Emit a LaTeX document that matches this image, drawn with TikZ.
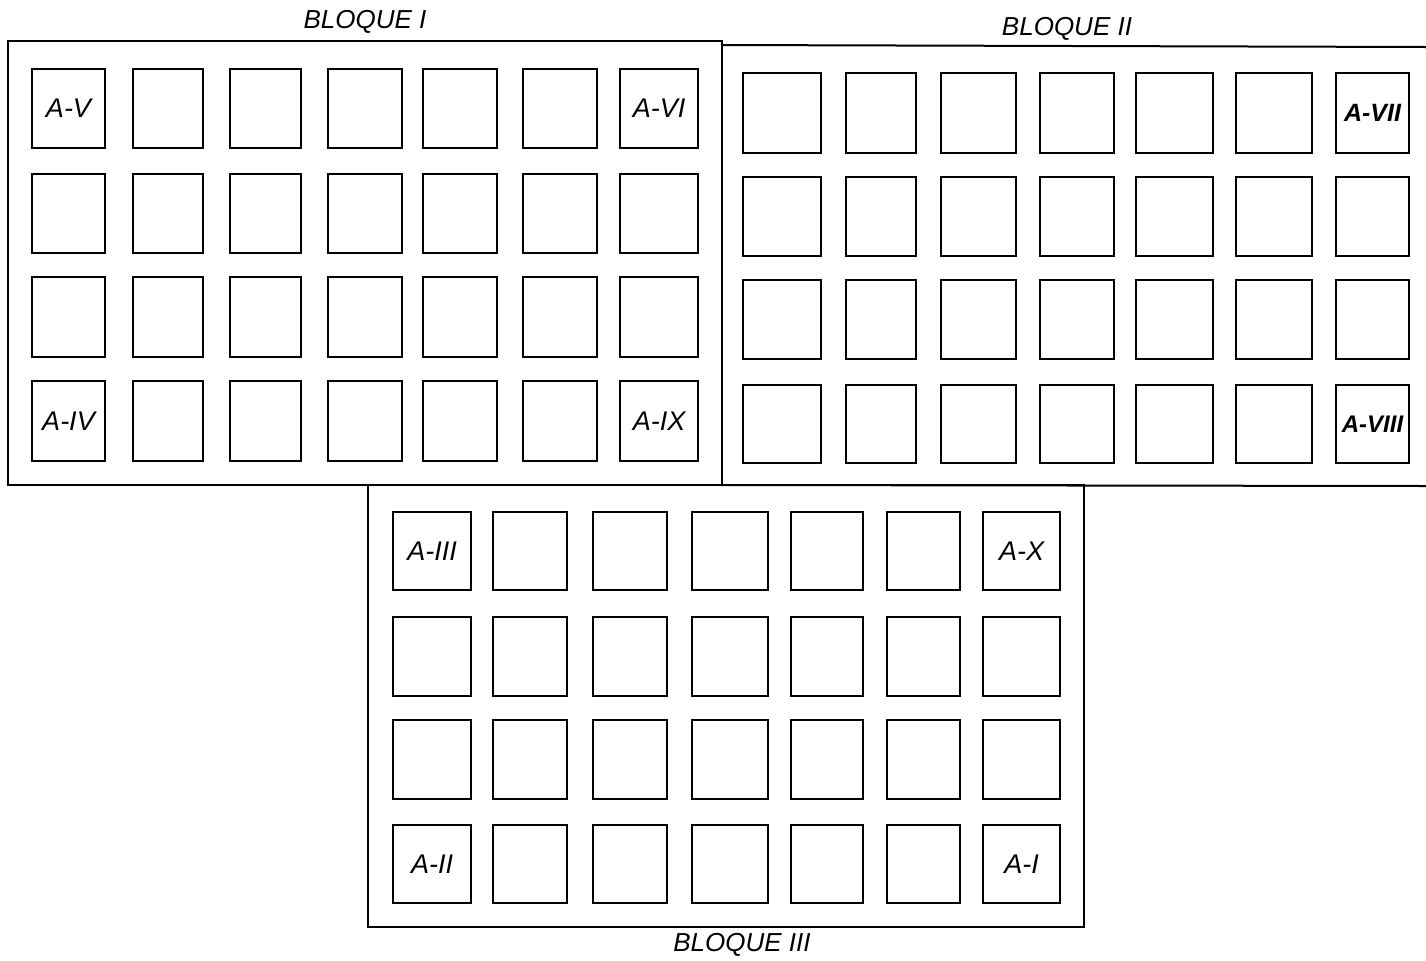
\documentclass[tikz,border=0pt]{standalone}
\usepackage{fontspec}
\setmainfont{Liberation Sans}
\begin{document}
\begin{tikzpicture}[x=0.5pt,y=-0.5pt,
  frame/.style={draw=black,line width=1pt},
  sq/.style={draw=black,line width=1.2pt,inner sep=0pt,outer sep=0pt},
  lab/.style={font=\fontsize{13.5}{15}\selectfont\itshape},
  labb/.style={font=\fontsize{12.5}{15}\selectfont\bfseries\itshape},
  ttl/.style={font=\fontsize{13}{15}\selectfont\itshape}]
\useasboundingbox (0,0) rectangle (1426,960);
% block frames
\draw[frame] (8,41) rectangle (722,485);
\draw[frame] (722,45) -- (1426,47);
\draw[frame] (722,485) -- (1426,486);
\draw[frame] (368,485) rectangle (1084,927);
% titles
\node[ttl] (t1) at (365,22) {BLOQUE I};
\node[ttl] (t2) at (1067,29) {BLOQUE II};
\node[ttl] (t3) at (742,945) {BLOQUE III};
% block I squares
\foreach \ya/\yb [count=\r] in {69/148,174/253,277/357,381/461}{
  \foreach \xa/\xb [count=\c] in {32/105,133/203,230/301,328/402,423/497,523/597,620/698}{
    \pgfmathsetmacro\w{(\xb-\xa)*0.5}
    \pgfmathsetmacro\h{(\yb-\ya)*0.5}
    \node[sq,minimum width=\w pt,minimum height=\h pt] (a-\r-\c) at ({(\xa+\xb)/2},{(\ya+\yb)/2}) {};
  }}
% block II squares
\foreach \ya/\yb [count=\r] in {73/153,177/256,280/359,385/463}{
  \foreach \xa/\xb [count=\c] in {743/821,846/916,941/1016,1040/1114,1136/1213,1236/1312,1336/1409}{
    \pgfmathsetmacro\w{(\xb-\xa)*0.5}
    \pgfmathsetmacro\h{(\yb-\ya)*0.5}
    \node[sq,minimum width=\w pt,minimum height=\h pt] (b-\r-\c) at ({(\xa+\xb)/2},{(\ya+\yb)/2}) {};
  }}
% block III squares
\foreach \ya/\yb [count=\r] in {512/590,617/696,720/799,825/903}{
  \foreach \xa/\xb [count=\c] in {393/471,493/567,593/667,692/768,791/863,887/960,983/1060}{
    \pgfmathsetmacro\w{(\xb-\xa)*0.5}
    \pgfmathsetmacro\h{(\yb-\ya)*0.5}
    \node[sq,minimum width=\w pt,minimum height=\h pt] (c-\r-\c) at ({(\xa+\xb)/2},{(\ya+\yb)/2}) {};
  }}
% labels
\node[lab] (l1) at (a-1-1) {A-V};
\node[lab] (l2) at (a-1-7) {A-VI};
\node[lab] (l3) at (a-4-1) {A-IV};
\node[lab] (l4) at (a-4-7) {A-IX};
\node[labb] (l5) at (b-1-7) {A-VII};
\node[labb,font=\fontsize{12}{15}\selectfont\bfseries\itshape] (l6) at (b-4-7) {A-VIII};
\node[lab] (l7) at (c-1-1) {A-III};
\node[lab] (l8) at (c-1-7) {A-X};
\node[lab] (l9) at (c-4-1) {A-II};
\node[lab] (l10) at (c-4-7) {A-I};
\end{tikzpicture}
\end{document}
